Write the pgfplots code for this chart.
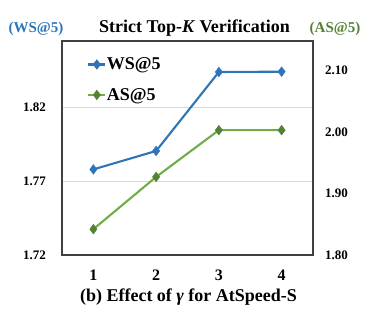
\documentclass[border=0pt]{standalone}
\usepackage{fontspec}
\setmainfont{Liberation Serif}
\usepackage{pgfplots}
\pgfplotsset{compat=1.18}
\definecolor{wsblue}{HTML}{2E75B6}
\definecolor{asgreenL}{HTML}{70AD47}
\definecolor{asgreenD}{HTML}{548235}
\definecolor{frame}{HTML}{404040}
\begin{document}
\begin{tikzpicture}
\pgfplotsset{
  common/.style={
    at={(0pt,0pt)}, anchor=south west,
    scale only axis, width=251pt, height=214pt,
    xmin=0.5, xmax=4.5,
    major tick length=0pt,
    /pgf/number format/assume math mode=true,
    /pgf/number format/fixed, /pgf/number format/fixed zerofill, /pgf/number format/precision=2,
    clip=false,
  },
  wsstyle/.style={color=wsblue, line width=2.1pt, mark=diamond*, mark size=4.8pt, mark options={fill=wsblue, line width=0.5pt}},
  asstyle/.style={color=asgreenL, line width=2.1pt, mark=diamond*, mark size=4.8pt, mark options={draw=asgreenD, fill=asgreenD, line width=0.5pt}},
}
\begin{axis}[common,
  ymin=1.72, ymax=1.865,
  xtick={1,2,3,4},
  ytick={1.72,1.77,1.82},
  ymajorgrids, grid style={draw=black!15, line width=0.9pt},
  axis line style={draw=frame, line width=1.2pt},
  yticklabel style={anchor=east, inner sep=0pt, xshift=-16pt, font=\fontsize{13}{13}\selectfont\bfseries},
  xticklabel style={anchor=north, inner sep=0pt, yshift=-15pt, font=\fontsize{16}{16}\selectfont\bfseries},
  xticklabel={\pgfmathprintnumber[precision=0]{\tick}},
]
\addplot[wsstyle] coordinates {(1,1.778) (2,1.7905) (3,1.844) (4,1.8442)};
\end{axis}
\begin{axis}[common,
  ymin=1.80, ymax=2.148,
  axis y line*=right, axis x line=none,
  axis line style={draw=none},
  ytick={1.80,1.90,2.00,2.10},
  yticklabel style={anchor=west, inner sep=0pt, xshift=12pt, font=\fontsize{13}{13}\selectfont\bfseries},
  legend style={at={(0.1,0.925)}, anchor=north west, draw=none, fill=none,
    inner sep=0pt, row sep=16pt,
    nodes={inner sep=0.5pt},
    font=\fontsize{18}{18}\selectfont\bfseries},
  legend cell align=left,
  legend image code/.code={\draw[#1, mark repeat=2, mark phase=2] plot coordinates {(0pt,0pt)(8.5pt,0pt)(17pt,0pt)};},
]
\addlegendimage{wsstyle}
\addlegendentry{WS@5}
\addplot[asstyle] coordinates {(1,1.842) (2,1.927) (3,2.003) (4,2.003)};
\addlegendentry{AS@5}
\end{axis}
\node[font=\fontsize{18}{18}\selectfont\bfseries] at (132.5pt,227pt) {Strict Top-\textit{K} Verification};
\node[font=\fontsize{15}{15}\selectfont\bfseries, text=wsblue] at (-26pt,226pt) {(WS@5)};
\node[font=\fontsize{15}{15}\selectfont\bfseries, text=asgreenD] at (273pt,226pt) {(AS@5)};
\node[font=\fontsize{18}{18}\selectfont\bfseries] at (126.5pt,-41.7pt) {(b) Effect of \textit{γ} for AtSpeed-S};
\pgfresetboundingbox
\path[use as bounding box] (-62pt,-55pt) rectangle (319pt,255pt);
\end{tikzpicture}
\end{document}
